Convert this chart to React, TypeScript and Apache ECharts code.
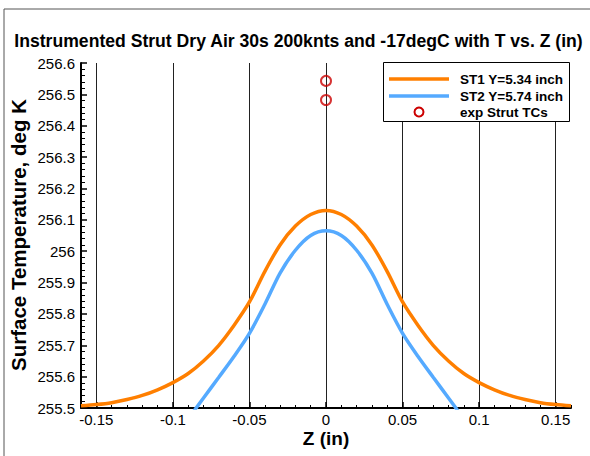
import React, { useEffect, useRef } from "react";
import * as echarts from "echarts";

const zST1 = [-0.16, -0.15, -0.14, -0.13, -0.12, -0.11, -0.1, -0.09, -0.08, -0.07, -0.06, -0.05, -0.04, -0.03, -0.02, -0.01, 0,
  0.01, 0.02, 0.03, 0.04, 0.05, 0.06, 0.07, 0.08, 0.09, 0.1, 0.11, 0.12, 0.13, 0.14, 0.15, 0.16];
const st1Values = [255.507, 255.511, 255.517, 255.527, 255.54, 255.558, 255.581, 255.61, 255.65, 255.7, 255.764, 255.838, 255.935, 256.02, 256.08, 256.117, 256.13,
  256.117, 256.08, 256.02, 255.935, 255.838, 255.764, 255.7, 255.65, 255.61, 255.581, 255.558, 255.54, 255.527, 255.517, 255.511, 255.507];
const zST2 = [-0.09, -0.08, -0.07, -0.06, -0.05, -0.04, -0.03, -0.02, -0.01, 0, 0.01, 0.02, 0.03, 0.04, 0.05, 0.06, 0.07, 0.08, 0.09];
const st2Values = [255.465, 255.532, 255.598, 255.665, 255.738, 255.83, 255.93, 256.003, 256.05, 256.065, 256.05, 256.003, 255.93, 255.83, 255.738, 255.665, 255.598, 255.532, 255.465];
const zExp = [0, 0];
const expValues = [256.543, 256.482];

const legendNames = ["ST1 Y=5.34 inch", "ST2 Y=5.74 inch", "exp Strut TCs"];
const titleText = "Instrumented Strut Dry Air 30s 200knts and -17degC with T vs. Z (in)";
const xTitle = "Z (in)";
const yTitle = "Surface Temperature, deg K";

const FONT = '"Liberation Sans", Arial, Helvetica, sans-serif';
const ORANGE = "#ff7f00";
const BLUE = "#55aaff";
const RED = "#cc0000";

export default function App() {
  const ref = useRef<HTMLDivElement>(null);
  useEffect(() => {
    if (!ref.current) return;
    const chart = echarts.init(ref.current, null, { renderer: "svg" });
    const W = 590, H = 456;
    const gl = 81, gr = 19, gt = 63, gb = 48;
    const gw = W - gl - gr;
    const pxPerUnit = gw / 0.32;
    const off = 0.01 * pxPerUnit;
    const option: any = {
      animation: false,
      backgroundColor: "#ffffff",
      textStyle: { fontFamily: FONT },
      grid: [
        { left: gl, right: gr, top: gt, bottom: gb },
        { left: gl + off, right: gr + off, top: gt, bottom: gb },
      ],
      xAxis: [
        {
          type: "value", gridIndex: 0, min: -0.16, max: 0.16, interval: 0.01,
          axisLine: { show: true, onZero: false, lineStyle: { color: "#000", width: 2 } },
          axisTick: { show: true, inside: true, length: 3, lineStyle: { color: "#000", width: 1 } },
          axisLabel: { show: false },
          splitLine: { show: false },
        },
        {
          type: "value", gridIndex: 1, min: -0.15, max: 0.15, interval: 0.05,
          axisLine: { show: false, onZero: false },
          axisTick: { show: true, inside: true, length: 6, lineStyle: { color: "#000", width: 1.5 } },
          axisLabel: {
            show: true, color: "#000", fontSize: 15, fontFamily: FONT, margin: 4,
            formatter: (v: number) => String(Number(v.toFixed(2))),
          },
          splitLine: { show: true, lineStyle: { color: "#222", width: 1 } },
        },
      ],
      yAxis: [
        {
          type: "value", gridIndex: 0, min: 255.5, max: 256.6, interval: 0.1,
          axisLine: { show: true, onZero: false, lineStyle: { color: "#000", width: 2 } },
          axisTick: { show: true, inside: true, length: 6, lineStyle: { color: "#000", width: 1.5 } },
          minorTick: { show: true, splitNumber: 5, length: 4, lineStyle: { color: "#000", width: 1 } },
          axisLabel: {
            show: true, color: "#000", fontSize: 15, fontFamily: FONT, margin: 6,
            formatter: (v: number) => String(Number(v.toFixed(1))),
          },
          splitLine: { show: false },
        },
        {
          type: "value", gridIndex: 1, min: 255.5, max: 256.6, show: false,
        },
      ],
      series: [
        {
          type: "line", xAxisIndex: 0, yAxisIndex: 0, name: legendNames[0],
          data: zST1.map((z, i) => [z, st1Values[i]]),
          showSymbol: false, smooth: 0.3, clip: true,
          lineStyle: { color: ORANGE, width: 3.5 }, z: 5,
        },
        {
          type: "line", xAxisIndex: 0, yAxisIndex: 0, name: legendNames[1],
          data: zST2.map((z, i) => [z, st2Values[i]]),
          showSymbol: false, smooth: 0.3, clip: true,
          lineStyle: { color: BLUE, width: 3.5 }, z: 5,
        },
        {
          type: "scatter", xAxisIndex: 0, yAxisIndex: 0, name: legendNames[2],
          data: zExp.map((z, i) => [z, expValues[i]]),
          symbol: "circle", symbolSize: 10,
          itemStyle: { color: "rgba(0,0,0,0)", borderColor: RED, borderWidth: 2 }, z: 6,
        },
      ],
      graphic: [
        { type: "line", shape: { x1: 4, y1: 9, x2: W, y2: 9 }, style: { stroke: "#555", lineWidth: 1 } },
        { type: "line", shape: { x1: 4, y1: 9, x2: 4, y2: H }, style: { stroke: "#555", lineWidth: 1 } },
        {
          type: "text", x: 298.5, y: 41,
          style: { text: titleText, fontFamily: FONT, fontWeight: "bold", fontSize: 17.6, fill: "#000", textAlign: "center", textVerticalAlign: "middle" },
        },
        {
          type: "text", x: 326, y: 438,
          style: { text: xTitle, fontFamily: FONT, fontWeight: "bold", fontSize: 19, fill: "#000", textAlign: "center", textVerticalAlign: "middle" },
        },
        {
          type: "text", x: 18, y: 235, rotation: Math.PI / 2,
          style: { text: yTitle, fontFamily: FONT, fontWeight: "bold", fontSize: 20.5, fill: "#000", textAlign: "center", textVerticalAlign: "middle" },
        },
        { type: "rect", shape: { x: 383.5, y: 62.5, width: 186, height: 59 }, style: { fill: "#fff", stroke: "#000", lineWidth: 1 }, z: 10 },
        { type: "line", shape: { x1: 389, y1: 79, x2: 449, y2: 79 }, style: { stroke: ORANGE, lineWidth: 3.5 }, z: 11 },
        { type: "line", shape: { x1: 389, y1: 96, x2: 449, y2: 96 }, style: { stroke: BLUE, lineWidth: 3.5 }, z: 11 },
        { type: "circle", shape: { cx: 419, cy: 112, r: 4.5 }, style: { fill: "none", stroke: RED, lineWidth: 2 }, z: 11 },
        { type: "text", x: 460, y: 79, style: { text: legendNames[0], fontFamily: FONT, fontWeight: "bold", fontSize: 13.5, fill: "#000", textVerticalAlign: "middle" }, z: 11 },
        { type: "text", x: 460, y: 96, style: { text: legendNames[1], fontFamily: FONT, fontWeight: "bold", fontSize: 13.5, fill: "#000", textVerticalAlign: "middle" }, z: 11 },
        { type: "text", x: 460, y: 112, style: { text: legendNames[2], fontFamily: FONT, fontWeight: "bold", fontSize: 13.5, fill: "#000", textVerticalAlign: "middle" }, z: 11 },
      ],
    };
    chart.setOption(option);
    return () => chart.dispose();
  }, []);
  return (
    <div
      ref={ref}
      style={{ position: "fixed", left: 0, top: 0, width: 590, height: 456, background: "#fff" }}
    />
  );
}
